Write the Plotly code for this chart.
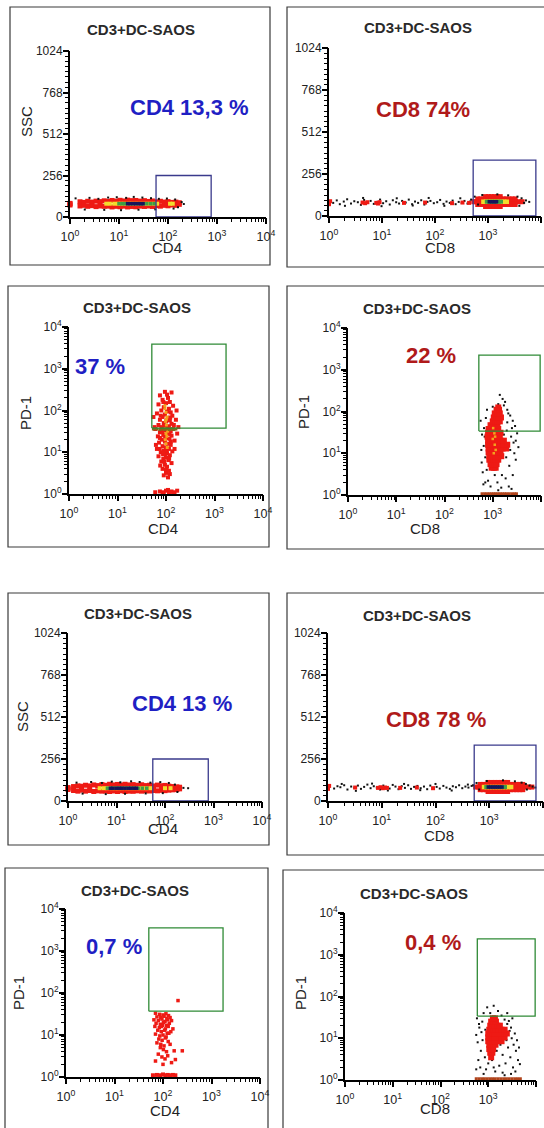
import plotly.graph_objects as go

W, H = 544, 1128
FONT = "Liberation Sans, Arial, sans-serif"

# ======================= DATA =======================
TITLE = "CD3+DC-SAOS"
LOG_TICKS = [1, 10, 100, 1000, 10000]
LOG_TICK_TEXT = ["10<sup>0</sup>", "10<sup>1</sup>", "10<sup>2</sup>", "10<sup>3</sup>", "10<sup>4</sup>"]
SSC_TICKS = [0, 256, 512, 768, 1024]
SSC_TICK_TEXT = ["0", "256", "512", "768", "1024"]

x_names = ["CD4", "CD8", "CD4", "CD8", "CD4", "CD8", "CD4", "CD8"]
y_names = ["SSC", "", "PD-1", "PD-1", "SSC", "", "PD-1", "PD-1"]
y_kinds = ["ssc", "ssc", "pd1", "pd1", "ssc", "ssc", "pd1", "pd1"]
pct_labels = ["CD4 13,3 %", "CD8 74%", "37 %", "22 %", "CD4 13 %", "CD8 78 %", "0,7 %", "0,4 %"]
pct_is_cd4 = [True, False, True, False, True, False, True, False]

gate_x = [[57, 760], [525, 8000], [51, 1730], [515, 9600],
          [56, 780], [525, 7400], [51, 1730], [590, 9600]]
gate_y = [[0, 256], [0, 340], [38, 3900], [34, 2250],
          [0, 256], [0, 341], [37, 3550], [34, 2400]]

# ---- panel 1 : CD4 vs SSC ----
p1_band_x = [1.0, 1.6, 1.9, 2.3, 2.8, 3.4, 4.1, 5.0, 6.0, 7.2, 8.7, 10.5, 12.5, 15,
             18, 22, 27, 33, 40, 48, 58, 70, 85, 100, 120, 145, 170]
p1_band_top = [84, 94, 90, 97, 92, 98, 95, 100, 96, 102, 98, 103, 99, 104,
               101, 102, 98, 101, 96, 99, 94, 97, 92, 95, 90, 92, 88]
p1_band_bot = [74, 68, 72, 66, 70, 64, 68, 66, 67, 62, 66, 63, 67, 62,
               65, 63, 67, 65, 68, 65, 70, 67, 72, 69, 74, 72, 78]
p1_yellow_x = [5.5, 6.5, 8, 9.5, 11, 13, 16, 19, 23, 28, 34, 41, 50, 60, 110, 125]
p1_green_x = [10, 11.5, 13, 15.5, 18.5, 22, 26, 31, 37, 44, 52]
p1_navy_x = [15, 17, 19.5, 22, 25, 28, 31]
p1_core_ssc = 82
p1_black = [(1.3, 115), (2.5, 118), (3.8, 112), (6, 120), (9, 122), (14, 118), (20, 124),
            (30, 120), (45, 116), (65, 112), (95, 114), (140, 108), (190, 92), (210, 80),
            (2, 46), (5, 44), (11, 42), (25, 45), (55, 47), (130, 52), (160, 60)]

# ---- panel 2 : CD8 vs SSC ----
p2_sparse_black = [(1.2, 80), (1.4, 95), (1.6, 72), (1.9, 88), (2.2, 102), (2.6, 76), (3.0, 90),
                   (3.5, 84), (4.0, 68), (4.6, 98), (5.3, 80), (6.1, 92), (7.0, 74), (8.0, 86),
                   (9.2, 100), (10.5, 78), (12, 90), (14, 70), (16, 96), (18.5, 84), (21, 76),
                   (24, 92), (28, 82), (32, 100), (37, 72), (42, 88), (48, 80), (55, 96), (63, 70),
                   (72, 86), (82, 92), (95, 78), (110, 84), (125, 98), (145, 74), (165, 88),
                   (190, 80), (215, 94), (245, 72), (280, 86), (320, 80), (360, 92), (410, 76),
                   (460, 88), (2.0, 62), (4.4, 110), (9.8, 60), (19, 108), (38, 64), (76, 110),
                   (150, 62), (300, 108)]
p2_sparse_red = [(1.0, 82), (1.0, 72), (1.05, 90), (4.3, 82), (4.8, 78), (5.3, 84), (7.8, 80),
                 (8.4, 76), (9.0, 84), (26, 80), (65, 82), (210, 78), (330, 82), (440, 80)]
p2_blob_levels = [87, 104, 70, 118, 58]
p2_blob_rows = [
    [540, 610, 690, 780, 880, 990, 1110, 1250, 1400, 1580, 1780, 2000, 2250, 2550, 2900, 3300, 3800, 4400],
    [640, 730, 830, 940, 1060, 1200, 1350, 1520, 1720, 1950, 2200, 2500, 2850, 3250],
    [640, 730, 830, 940, 1060, 1200, 1350, 1520, 1720, 1950, 2200, 2500, 2850, 3250],
    [900, 1020, 1160, 1320, 1500, 1700],
    [900, 1020, 1160, 1320, 1500, 1700],
]
p2_yellow_x = [820, 920, 1030, 1150, 1290, 1440, 1610, 1800, 2020, 2260]
p2_green_x = [950, 1060, 1180, 1310, 1450, 1600, 1760]
p2_navy_x = [1060, 1150, 1250, 1350, 1450]
p2_core_ssc = 87
p2_blob_black = [(480, 100), (560, 118), (650, 70), (3600, 118), (4300, 108), (5200, 95),
                 (6000, 86), (780, 128), (1500, 132), (2400, 126), (4800, 80), (3900, 62)]

# ---- panel 3 : CD4 vs PD-1 ----
p3_red = [(95, 280), (130, 270), (75, 230), (110, 200), (85, 180), (120, 160), (100, 150), (70, 140),
          (140, 130), (90, 120), (115, 110), (80, 100), (105, 95), (125, 90), (65, 85), (95, 80),
          (135, 75), (85, 70), (110, 65), (75, 60), (120, 58), (100, 55), (90, 50), (130, 48),
          (70, 45), (115, 42), (80, 40), (105, 38), (60, 36), (140, 36), (95, 33), (125, 32),
          (75, 30), (110, 28), (88, 26), (130, 25), (68, 24), (100, 22), (118, 21), (82, 20),
          (150, 19), (95, 18), (72, 17), (108, 16), (125, 15), (85, 14), (100, 13), (65, 12),
          (115, 12), (90, 11), (135, 10.5), (78, 10), (105, 9.5), (95, 9), (120, 8.5), (70, 8),
          (100, 7.5), (88, 7), (112, 6.5), (80, 6), (130, 5.5), (95, 5), (105, 4.5), (85, 4),
          (115, 3.6), (100, 3.2), (90, 2.8), (110, 2.5), (75, 22), (145, 45), (160, 60), (55, 70),
          (170, 28), (62, 15), (150, 12), (58, 40), (165, 100), (180, 40), (88, 160), (105, 240),
          (78, 75), (122, 68), (92, 42), (108, 30), (84, 32), (118, 27), (96, 24), (74, 12),
          (126, 18), (102, 11), (87, 9), (116, 7), (92, 6), (76, 4.8), (100, 3.8), (120, 3)]
p3_core = [(95, 110), (100, 90), (105, 70), (98, 55), (102, 45), (95, 36), (108, 32), (100, 28),
           (104, 24), (97, 20), (100, 16), (106, 13), (95, 130), (102, 62)]
p3_olive = [(55, 36), (65, 36), (75, 35), (85, 36), (95, 35), (105, 36), (118, 35), (130, 36),
            (145, 35), (160, 36)]
p3_floor = [(60, 1.1), (75, 1.15), (90, 1.1), (100, 1.2), (115, 1.1), (130, 1.15), (150, 1.1),
            (170, 1.2), (85, 1.05), (140, 1.05), (110, 1.25)]

# ---- panel 4 : CD8 vs PD-1 ----
p4_red_levels = [4.5, 5.5, 7, 8.5, 10.5, 13, 16, 20, 25, 31, 38, 47, 58, 72, 90, 110, 125]
p4_red_rows = [
    [950, 1050, 1150],
    [900, 1000, 1100, 1200],
    [850, 950, 1050, 1150, 1300],
    [850, 950, 1050, 1150, 1300, 1500],
    [820, 920, 1020, 1120, 1250, 1450],
    [820, 920, 1020, 1150, 1300, 1600, 1900],
    [800, 900, 1000, 1120, 1250, 1450, 1700, 2000],
    [800, 900, 1000, 1100, 1250, 1450, 1700],
    [780, 880, 980, 1100, 1250, 1400],
    [800, 900, 1000, 1120, 1280, 1450],
    [820, 920, 1020, 1150, 1300],
    [900, 1000, 1100, 1250],
    [1000, 1120, 1250, 1400],
    [1050, 1180, 1320, 1480],
    [1100, 1250, 1400],
    [1200, 1350],
    [1300],
]
p4_core = [(1050, 10), (1100, 16), (1000, 22), (1080, 30), (1150, 12), (1020, 40), (1120, 25)]
p4_black = [(560, 60), (600, 28), (650, 15), (700, 8), (750, 4), (700, 2), (620, 3.5), (580, 12),
            (1300, 150), (1600, 200), (1800, 170), (2000, 110), (2300, 80), (2600, 60), (2900, 45),
            (3200, 30), (1400, 250), (1700, 140), (2100, 90), (2500, 40), (3000, 20), (660, 40),
            (720, 70), (1900, 8), (2200, 5), (800, 2.2), (1250, 2), (1550, 3), (1850, 2.5),
            (2150, 1.6), (2450, 1.4), (640, 1.8), (590, 6), (1500, 1.5), (2800, 10), (3400, 14),
            (1700, 28), (1100, 3), (900, 1.6), (2000, 55), (2400, 25), (2700, 18), (1950, 35),
            (680, 25), (760, 110), (1000, 130), (2300, 12), (3000, 7), (1300, 1.3), (2600, 3)]
p4_floor_x = [600, 680, 760, 850, 950, 1050, 1150, 1280, 1420, 1580, 1760, 1950, 2200, 2500, 2800, 3100]
p4_floor_y = 1.07

# ---- panel 5 : CD4 vs SSC ----
p5_band_x = [1.0, 1.3, 1.6, 1.9, 2.3, 2.8, 3.4, 4.1, 5.0, 6.0, 7.2, 8.7, 10.5, 12.5, 15,
             18, 22, 27, 33, 40, 48, 58, 70, 85, 100, 120, 145, 175, 200]
p5_band_top = [82, 88, 92, 90, 96, 92, 98, 94, 100, 96, 102, 98, 101, 97, 102,
               98, 100, 96, 99, 94, 96, 92, 97, 93, 95, 91, 88, 86, 84]
p5_band_bot = [70, 64, 60, 66, 60, 64, 58, 62, 60, 61, 58, 61, 58, 62, 58,
               60, 59, 62, 60, 63, 61, 64, 62, 65, 63, 66, 68, 70, 74]
p5_yellow_x = [4.5, 5.5, 6.5, 8, 9.5, 11, 13, 16, 19, 23, 28, 34, 41, 50, 100, 130]
p5_green_x = [6.5, 8, 9.5, 11, 13, 16, 19, 23, 28, 34, 42]
p5_navy_x = [7.5, 8.5, 10, 11.5, 13, 15, 17.5, 20, 23, 26]
p5_core_ssc = 78
p5_black = [(1.5, 112), (3, 116), (5, 110), (8, 118), (12, 114), (20, 120), (30, 116), (50, 112),
            (80, 115), (120, 110), (160, 100), (240, 80), (300, 78), (2, 45), (6, 42), (15, 44),
            (40, 46), (90, 48), (180, 55)]

# ---- panel 6 : CD8 vs SSC ----
p6_sparse_black = [(1.3, 76), (1.5, 90), (1.7, 84), (2.0, 96), (2.3, 70), (2.7, 88), (3.1, 80),
                   (3.6, 94), (4.1, 74), (4.7, 86), (5.4, 100), (6.2, 78), (7.1, 90), (8.1, 82),
                   (9.3, 70), (10.7, 94), (12.2, 84), (14, 76), (16, 98), (18, 88), (20.5, 72),
                   (23.5, 90), (27, 80), (31, 96), (35, 74), (40, 86), (46, 92), (53, 78), (61, 88),
                   (70, 72), (80, 94), (92, 80), (105, 86), (120, 76), (140, 92), (160, 82),
                   (185, 74), (210, 90), (240, 84), (275, 96), (315, 78), (360, 88), (410, 82),
                   (470, 92), (1.8, 104), (3.3, 62), (6.6, 106), (13, 64), (26, 104), (52, 66),
                   (100, 104), (200, 64), (400, 100)]
p6_sparse_red = [(1.0, 84), (1.0, 74), (1.05, 92), (8.5, 80), (9.5, 84), (10.5, 78), (11.5, 82),
                 (12.5, 80), (3.2, 82), (22, 80), (45, 82), (90, 78)]
p6_blob_levels = [85, 101, 69, 113, 58]
p6_blob_rows = [
    [560, 640, 730, 830, 950, 1080, 1230, 1400, 1600, 1820, 2070, 2350, 2700, 3100, 3550, 4100, 4700, 5400, 6200],
    [680, 780, 890, 1010, 1150, 1310, 1490, 1700, 1940, 2200, 2500, 2850, 3250, 3700, 4200],
    [680, 780, 890, 1010, 1150, 1310, 1490, 1700, 1940, 2200, 2500, 2850, 3250, 3700, 4200],
    [950, 1100, 1270, 1460, 1680, 1930, 2200],
    [950, 1100, 1270, 1460, 1680, 1930, 2200],
]
p6_yellow_x = [800, 900, 1010, 1130, 1270, 1420, 1590, 1780, 2000, 2250, 2550]
p6_green_x = [880, 990, 1110, 1240, 1390, 1560, 1750, 1960]
p6_navy_x = [960, 1060, 1170, 1290, 1420, 1570, 1730]
p6_core_ssc = 85
p6_blob_black = [(500, 96), (580, 110), (650, 70), (4000, 112), (4800, 104), (5600, 94),
                 (6400, 88), (7200, 82), (900, 122), (1800, 126), (3000, 120), (5000, 70)]

# ---- panel 7 : CD4 vs PD-1 ----
p7_red = [(70, 33), (85, 31), (100, 30), (115, 32), (130, 29), (75, 27), (90, 26), (105, 28),
          (120, 25), (140, 26), (65, 23), (80, 22), (95, 24), (110, 21), (125, 23), (150, 22),
          (72, 19), (88, 18), (102, 20), (118, 17), (135, 19), (68, 16), (84, 15), (98, 17),
          (112, 14), (128, 16), (160, 14), (78, 13), (92, 12), (108, 13), (122, 11), (145, 12),
          (70, 10.5), (86, 9.5), (100, 10), (116, 9), (132, 11), (82, 8), (96, 7.5), (112, 8.5),
          (128, 7), (75, 6.5), (90, 6), (105, 5.5), (140, 6), (88, 5), (102, 4.5), (118, 4),
          (80, 3.5), (95, 3), (110, 2.7), (125, 3.2), (70, 2.4), (150, 2.2), (180, 2.6),
          (100, 2.0), (204, 66), (170, 4.2), (250, 4.2), (92, 16)]
p7_floor = [(62, 1.1), (75, 1.12), (88, 1.1), (100, 1.15), (112, 1.1), (125, 1.12), (140, 1.1),
            (160, 1.12), (180, 1.1)]

# ---- panel 8 : CD8 vs PD-1 ----
p8_red_levels = [3.5, 4.5, 5.5, 7, 8.5, 10.5, 13, 16, 20, 25, 30]
p8_red_rows = [
    [1150],
    [1100, 1220],
    [1050, 1150, 1270],
    [1050, 1150, 1270, 1420],
    [1000, 1100, 1220, 1380, 1600, 1900],
    [1000, 1100, 1220, 1380, 1600, 1900, 2200],
    [1000, 1100, 1220, 1380, 1600, 1850, 2150, 2450],
    [1050, 1150, 1280, 1450, 1650, 1900, 2200],
    [1100, 1220, 1380, 1550, 1750],
    [1150, 1300, 1450],
    [1250, 1380],
]
p8_black = [(560, 12), (600, 8), (650, 18), (700, 5), (750, 25), (620, 3), (580, 30), (680, 2),
            (720, 14), (800, 40), (850, 3.5), (900, 1.8), (950, 55), (1300, 60), (1600, 45),
            (1900, 35), (2200, 28), (2500, 22), (2800, 15), (3100, 10), (3400, 7), (3800, 5),
            (4200, 3), (2000, 4), (2300, 2.5), (2600, 6), (2900, 3.5), (3300, 2), (1700, 2.2),
            (1400, 1.6), (1200, 3), (1000, 2.5), (2100, 12), (2400, 9), (2700, 26), (3000, 18),
            (3600, 13), (4000, 9), (4400, 6), (1500, 5), (1800, 7), (760, 9), (640, 22), (870, 16),
            (2000, 1.5), (3200, 30), (2500, 40), (1100, 40), (3700, 1.6), (4600, 2.4), (560, 1.8),
            (1300, 2), (2200, 1.3), (3000, 1.4), (800, 1.4)]
p8_floor_x = [560, 640, 730, 830, 950, 1080, 1230, 1400, 1600, 1830, 2100, 2400, 2750, 3150, 3600, 4100, 4700]
p8_floor_y = 1.07

# ======================= STYLE / GEOMETRY =======================
RED = "#ee1a14"
ORANGE = "#f4a21e"
YELLOW = "#f3dc2c"
GREEN = "#3f9d45"
NAVY = "#15155a"
BLACK = "#111111"
BROWN = "#b0441c"
OLIVE = "#7e6a1c"
BLUE_TXT = "#1f1fc4"
RED_TXT = "#b01a1a"
GATE_BLUE = "#3a3a8c"
GATE_GREEN = "#2f8a36"

# tick-mark positions (axis decoration only): small ticks at every digit / every 32
LOG_ALL = [m * 10 ** d for d in range(4) for m in range(1, 10)] + [10000]
LOG_ALL_TEXT = [LOG_TICK_TEXT[LOG_TICKS.index(v)] if v in LOG_TICKS else "" for v in LOG_ALL]
SSC_ALL = list(range(0, 1025, 32))
SSC_ALL_TEXT = [SSC_TICK_TEXT[SSC_TICKS.index(v)] if v in SSC_TICKS else "" for v in SSC_ALL]

# axis boxes in pixels: x of 10^0, x of 10^4, y of top, y of bottom
axes_px = [(70, 266, 51, 217), (329, 541, 48, 216), (69, 263, 327, 494), (348, 541, 328, 495),
           (68, 262, 633, 801), (328, 543, 633, 801), (66, 260, 909, 1077), (345, 536, 913, 1080)]
frames_px = [(10, 7, 270, 265), (287, 7, 560, 267), (8, 286, 269, 547), (287, 286, 560, 549),
             (8, 593, 269, 845), (287, 593, 560, 855), (5, 868, 268, 1140), (283, 870, 560, 1140)]
title_px = [(141, 30), (418, 28), (137, 307), (417, 308), (138, 613), (417, 615), (135, 890), (414, 893)]
xname_px = [(167, 248), (440, 248), (163, 528), (425, 528), (163, 828), (439, 835), (165, 1110), (435, 1108)]
yname_px = [(26, 122), None, (25, 413), (303, 412), (22, 717), None, (18, 993), (300, 993)]
pct_px = [(189, 108), (423, 110), (100, 366), (431, 356), (182, 703), (436, 719), (114, 947), (433, 942)]


def fx(v):
    return v / W


def fy(v):
    return 1 - v / H


def split(pairs):
    return [a for a, b in pairs], [b for a, b in pairs]


def from_rows(rows, levels):
    xs, ys = [], []
    for r, lv in zip(rows, levels):
        xs += r
        ys += [lv] * len(r)
    return xs, ys


def const(xs, v):
    return xs, [v] * len(xs)


def band(xs, top, bot):
    return xs + xs, top + bot


layers = [
    # panel 1
    [(split([(1.0, 80)]), RED, 5, "square"),
     (band(p1_band_x, p1_band_top, p1_band_bot), RED, 5, "square"),
     (const(p1_yellow_x, p1_core_ssc), YELLOW, 4, "square"),
     (const(p1_green_x, p1_core_ssc), GREEN, 3.5, "square"),
     (const(p1_navy_x, p1_core_ssc), NAVY, 3.5, "square"),
     (split(p1_black), BLACK, 2, "square")],
    # panel 2
    [(split(p2_sparse_black), BLACK, 2, "square"),
     (split(p2_sparse_red), RED, 4, "square"),
     (from_rows(p2_blob_rows, p2_blob_levels), RED, 5, "square"),
     (const(p2_yellow_x, p2_core_ssc), YELLOW, 4.5, "square"),
     (const(p2_green_x, p2_core_ssc), GREEN, 4, "square"),
     (const(p2_navy_x, p2_core_ssc), NAVY, 3.5, "square"),
     (split(p2_blob_black), BLACK, 2, "square")],
    # panel 3
    [(split(p3_red), RED, 4, "square"),
     (split(p3_core), ORANGE, 3, "square"),
     (split(p3_olive), OLIVE, 3, "square"),
     (split(p3_floor), RED, 4, "square")],
    # panel 4
    [(split(p4_black), BLACK, 2, "square"),
     (from_rows(p4_red_rows, p4_red_levels), RED, 6, "square"),
     (split(p4_core), ORANGE, 2.5, "square"),
     (const(p4_floor_x, p4_floor_y), BROWN, 3, "square")],
    # panel 5
    [(split([(1.0, 76)]), RED, 5, "square"),
     (band(p5_band_x, p5_band_top, p5_band_bot), RED, 5, "square"),
     (const(p5_yellow_x, p5_core_ssc), YELLOW, 4, "square"),
     (const(p5_green_x, p5_core_ssc), GREEN, 3.5, "square"),
     (const(p5_navy_x, p5_core_ssc), NAVY, 3.5, "square"),
     (split(p5_black), BLACK, 2, "square")],
    # panel 6
    [(split(p6_sparse_black), BLACK, 2, "square"),
     (split(p6_sparse_red), RED, 4, "square"),
     (from_rows(p6_blob_rows, p6_blob_levels), RED, 5, "square"),
     (const(p6_yellow_x, p6_core_ssc), YELLOW, 4.5, "square"),
     (const(p6_green_x, p6_core_ssc), GREEN, 4, "square"),
     (const(p6_navy_x, p6_core_ssc), NAVY, 3.5, "square"),
     (split(p6_blob_black), BLACK, 2, "square")],
    # panel 7
    [(split(p7_red), RED, 3.5, "square"),
     (split(p7_floor), RED, 4, "square")],
    # panel 8
    [(split(p8_black), BLACK, 2, "square"),
     (from_rows(p8_red_rows, p8_red_levels), RED, 6, "square"),
     (const(p8_floor_x, p8_floor_y), BROWN, 3, "square")],
]

fig = go.Figure()
shapes = []
annotations = []
layout_axes = {}

base_axis = dict(showline=True, linecolor="black", linewidth=2, mirror=False,
                 ticks="outside", ticklen=3, tickwidth=1, tickcolor="black",
                 tickmode="array", showgrid=False, zeroline=False, fixedrange=True,
                 automargin=False, tickfont=dict(family=FONT, size=12, color="#222"))
major_axis = dict(showline=False, ticks="outside", ticklen=6, tickwidth=1.5, tickcolor="black",
                  tickmode="array", showticklabels=False, showgrid=False, zeroline=False,
                  fixedrange=True, automargin=False)

for i in range(8):
    n = i + 1
    m = n + 8
    xa = "x" if n == 1 else f"x{n}"
    ya = "y" if n == 1 else f"y{n}"
    xk = "xaxis" if n == 1 else f"xaxis{n}"
    yk = "yaxis" if n == 1 else f"yaxis{n}"
    x0, x1, yt, yb = axes_px[i]

    layout_axes[xk] = dict(base_axis, type="log", range=[0, 4], domain=[fx(x0), fx(x1)], anchor=ya,
                           tickvals=LOG_ALL, ticktext=LOG_ALL_TEXT, ticklabelstandoff=4,
                           tickfont=dict(family=FONT, size=12.5, color="#222"))
    layout_axes[f"xaxis{m}"] = dict(major_axis, type="log", range=[0, 4], domain=[fx(x0), fx(x1)],
                                    overlaying=xa, anchor=ya, side="bottom", tickvals=LOG_TICKS)
    if y_kinds[i] == "ssc":
        layout_axes[yk] = dict(base_axis, type="linear", range=[0, 1024], domain=[fy(yb), fy(yt)],
                               anchor=xa, tickvals=SSC_ALL, ticktext=SSC_ALL_TEXT)
        layout_axes[f"yaxis{m}"] = dict(major_axis, type="linear", range=[0, 1024],
                                        domain=[fy(yb), fy(yt)], overlaying=ya, anchor=xa,
                                        side="left", tickvals=SSC_TICKS)
    else:
        layout_axes[yk] = dict(base_axis, type="log", range=[0, 4], domain=[fy(yb), fy(yt)],
                               anchor=xa, tickvals=LOG_ALL, ticktext=LOG_ALL_TEXT)
        layout_axes[f"yaxis{m}"] = dict(major_axis, type="log", range=[0, 4],
                                        domain=[fy(yb), fy(yt)], overlaying=ya, anchor=xa,
                                        side="left", tickvals=LOG_TICKS)

    # empty trace so that the major-tick overlay axes are drawn
    fig.add_trace(go.Scatter(x=[], y=[], xaxis=f"x{m}", yaxis=f"y{m}", mode="markers",
                             showlegend=False, hoverinfo="skip"))

    # data layers
    for (xy, color, size, sym) in layers[i]:
        fig.add_trace(go.Scatter(
            x=xy[0], y=xy[1], mode="markers", xaxis=xa, yaxis=ya,
            marker=dict(color=color, size=size, symbol=sym, line=dict(width=0)),
            cliponaxis=False, showlegend=False, hoverinfo="skip"))

    # gate
    gx, gy = gate_x[i], gate_y[i]
    fig.add_trace(go.Scatter(
        x=[gx[0], gx[1], gx[1], gx[0], gx[0]], y=[gy[0], gy[0], gy[1], gy[1], gy[0]],
        mode="lines", xaxis=xa, yaxis=ya,
        line=dict(color=GATE_BLUE if y_kinds[i] == "ssc" else GATE_GREEN, width=1.3),
        showlegend=False, hoverinfo="skip"))

    # frame
    fl, ft, fr, fb = frames_px[i]
    shapes.append(dict(type="rect", xref="paper", yref="paper",
                       x0=fx(fl), x1=fx(fr), y0=fy(fb), y1=fy(ft),
                       line=dict(color="#3a3a3a", width=1.2), fillcolor="rgba(0,0,0,0)", layer="below"))

    # texts
    tx, ty = title_px[i]
    annotations.append(dict(text="<b>" + TITLE + "</b>", x=fx(tx), y=fy(ty), xref="paper", yref="paper",
                            showarrow=False, xanchor="center", yanchor="middle",
                            font=dict(family=FONT, size=15, color="#2a2a2a")))
    nx, ny = xname_px[i]
    annotations.append(dict(text=x_names[i], x=fx(nx), y=fy(ny), xref="paper", yref="paper",
                            showarrow=False, xanchor="center", yanchor="middle",
                            font=dict(family=FONT, size=15, color="#222")))
    if yname_px[i] is not None:
        vx, vy = yname_px[i]
        annotations.append(dict(text=y_names[i], x=fx(vx), y=fy(vy), xref="paper", yref="paper",
                                showarrow=False, xanchor="center", yanchor="middle", textangle=-90,
                                font=dict(family=FONT, size=15, color="#222")))
    px_, py_ = pct_px[i]
    annotations.append(dict(text="<b>" + pct_labels[i] + "</b>", x=fx(px_), y=fy(py_),
                            xref="paper", yref="paper", showarrow=False,
                            xanchor="center", yanchor="middle",
                            font=dict(family=FONT, size=22,
                                      color=BLUE_TXT if pct_is_cd4[i] else RED_TXT)))

fig.update_layout(
    width=W, height=H, margin=dict(l=0, r=0, t=0, b=0, pad=0, autoexpand=False),
    paper_bgcolor="white", plot_bgcolor="white",
    shapes=shapes, annotations=annotations, showlegend=False,
    **layout_axes,
)

fig.write_html("out.html")
